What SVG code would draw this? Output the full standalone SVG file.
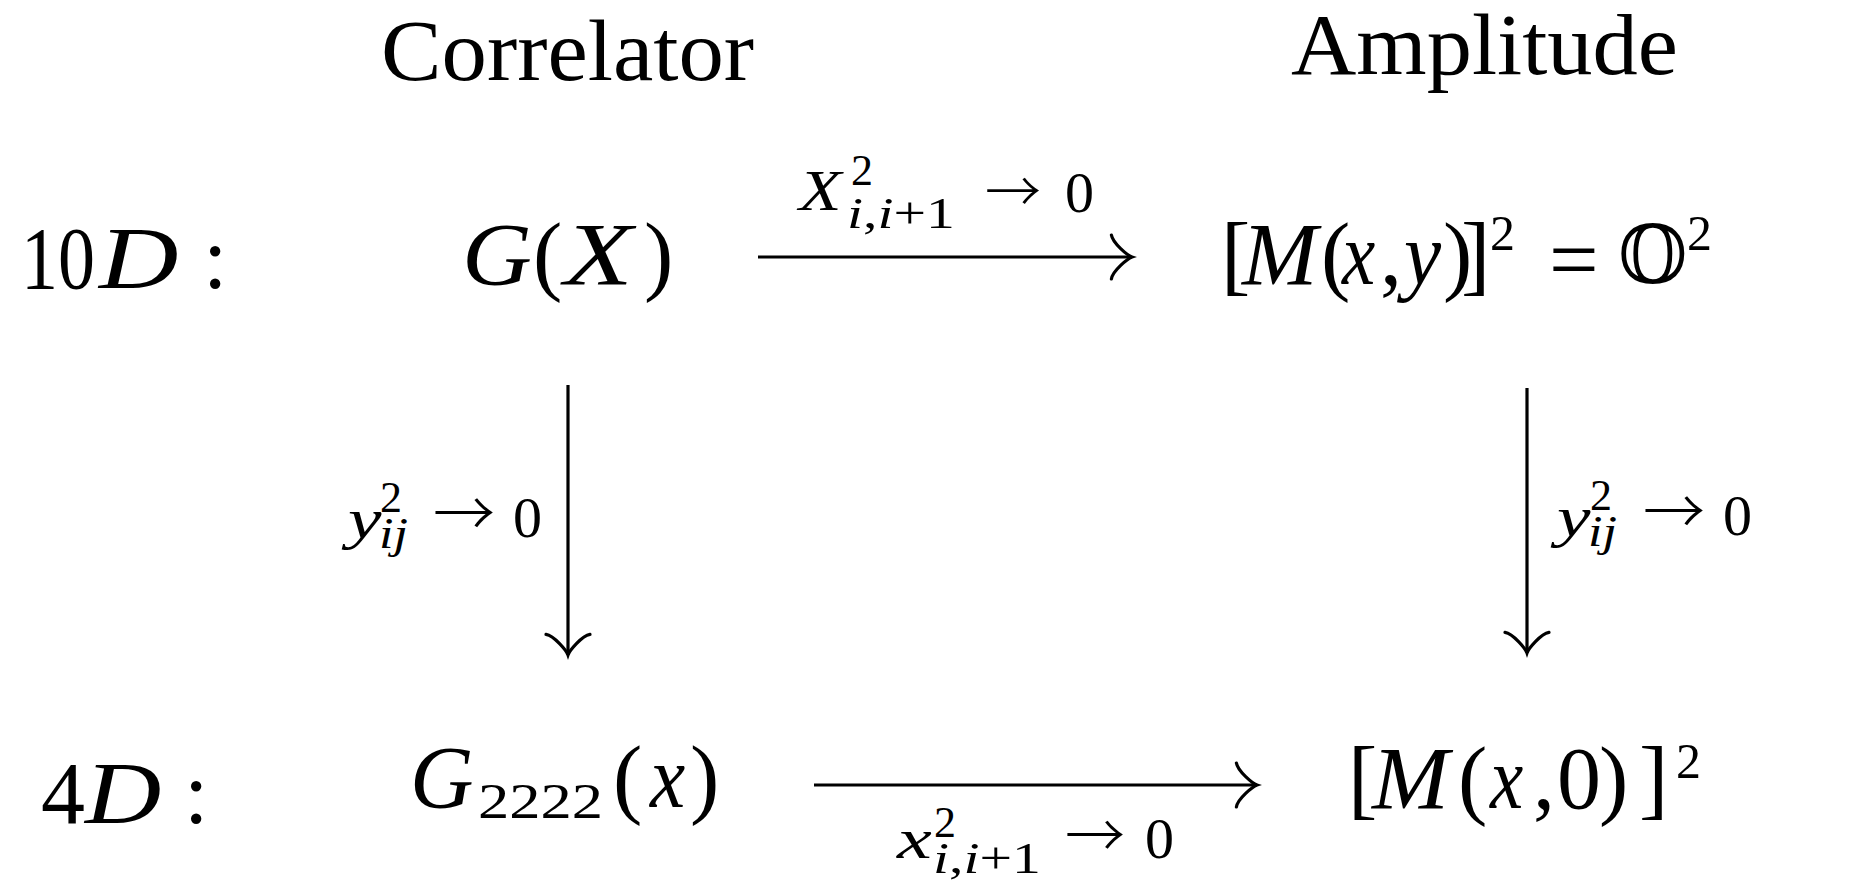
<svg xmlns="http://www.w3.org/2000/svg" width="1857" height="883" viewBox="0 0 1857 883">
<style>
text{font-family:"Liberation Serif","DejaVu Serif",serif;fill:#000}
.i{font-style:italic}
.b{font-size:88px}
.p{font-size:50px}
.s{font-size:58px}
.ss{font-size:44px}
.h{font-size:86px}
.ar{font-family:"Noto Sans CJK JP","DejaVu Sans",sans-serif;font-weight:300}
.ds{font-family:"DejaVu Serif","DejaVu Sans",serif;font-size:80px}
.c{stroke:#000;stroke-width:3.2;fill:none}
</style>
<defs>
<marker id="ah" markerUnits="userSpaceOnUse" viewBox="-26 -26 30 52" markerWidth="30" markerHeight="52" refX="0" refY="0" orient="auto" overflow="visible">
<path d="M -20.6,-22 C -19.25,-13.75 -4.1,-1.4 0,0 C -4.1,1.4 -19.25,13.75 -20.6,22" fill="none" stroke="#000" stroke-width="3.2" stroke-linecap="round"/>
</marker>
</defs>
<rect width="1857" height="883" fill="#fff"/>
<g id="head-correlator"><text class="h" x="381" y="80" textLength="373" lengthAdjust="spacingAndGlyphs">Correlator</text></g>
<g id="head-amplitude"><text class="h" x="1291" y="74" textLength="387" lengthAdjust="spacingAndGlyphs">Amplitude</text></g>
<g id="row-10D">
<text class="b" x="21" y="288" textLength="74" lengthAdjust="spacingAndGlyphs">10</text>
<text class="b i" transform="translate(99,288) scale(1.25,1)">D</text>
<text class="b" x="203" y="288">:</text>
</g>
<g id="row-4D">
<text class="b" x="41" y="823">4</text>
<text class="b i" transform="translate(85,823) scale(1.2,1)">D</text>
<text class="b" x="184" y="823">:</text>
</g>
<g id="node-GX">
<text class="b i" transform="translate(462,284) scale(1.1,1)">G</text>
<text class="b" x="533" y="284">(</text>
<text class="b i" transform="translate(564,284) scale(1.28,1)">X</text>
<text class="b" x="644" y="284">)</text>
</g>
<g id="node-Mxy">
<text class="b" x="1221" y="284">[</text>
<text class="b i" transform="translate(1242,284) scale(1.03,1)">M</text>
<text class="b" x="1321" y="284">(</text>
<text class="b i" transform="translate(1342,284) scale(0.85,1)">x</text>
<text class="b" x="1380" y="284">,</text>
<text class="b i" transform="translate(1404,284) scale(0.95,1)">y</text>
<text class="b" x="1443" y="284">)</text>
<text class="b" x="1461" y="284">]</text>
<text class="p" x="1490" y="250">2</text>
<text class="b" x="1549" y="289">=</text>
<text class="ds" x="1618" y="283">𝕆</text>
<text class="p" x="1687" y="250">2</text>
</g>
<g id="node-G2222">
<text class="b i" x="410" y="807">G</text>
<text class="p" x="478" y="818" textLength="125" lengthAdjust="spacingAndGlyphs">2222</text>
<text class="b" x="613" y="807">(</text>
<text class="b i" transform="translate(650,807) scale(0.9,1)">x</text>
<text class="b" x="690" y="807">)</text>
</g>
<g id="node-Mx0">
<text class="b" x="1348" y="808">[</text>
<text class="b i" transform="translate(1372,808) scale(1.05,1)">M</text>
<text class="b" x="1458" y="808">(</text>
<text class="b i" transform="translate(1490,808) scale(0.85,1)">x</text>
<text class="b" x="1533" y="808">,</text>
<text class="b" x="1557" y="808">0</text>
<text class="b" x="1599" y="808">)</text>
<text class="b" x="1639" y="808">]</text>
<text class="p" x="1676" y="778">2</text>
</g>
<g id="connectors">
<line class="c" x1="758" y1="257" x2="1132" y2="257" marker-end="url(#ah)"/>
<line class="c" x1="814" y1="785" x2="1257" y2="785" marker-end="url(#ah)"/>
<line class="c" x1="568" y1="385" x2="568" y2="655" marker-end="url(#ah)"/>
<line class="c" x1="1527" y1="388" x2="1527" y2="653" marker-end="url(#ah)"/>
</g>
<g id="label-top">
<text class="s i" transform="translate(799,210) scale(1.2,1)">X</text>
<text class="ss" x="851" y="185">2</text>
<text class="ss i" x="847" y="228" textLength="108" lengthAdjust="spacingAndGlyphs">i<tspan font-style="normal">,</tspan>i<tspan font-style="normal">+1</tspan></text>
<text class="ar" x="985" y="212" font-size="56">→</text>
<text class="s" x="1065" y="212">0</text>
</g>
<g id="label-left">
<text class="s i" transform="translate(348,538) scale(1.3,1)">y</text>
<text class="ss" x="380" y="512">2</text>
<text class="ss i" x="379" y="548" textLength="29" lengthAdjust="spacingAndGlyphs">ij</text>
<text class="ar" x="433" y="537" font-size="62">→</text>
<text class="s" x="513" y="537">0</text>
</g>
<g id="label-right">
<text class="s i" transform="translate(1557,536) scale(1.3,1)">y</text>
<text class="ss" x="1590" y="510">2</text>
<text class="ss i" x="1588" y="546" textLength="29" lengthAdjust="spacingAndGlyphs">ij</text>
<text class="ar" x="1643" y="535" font-size="62">→</text>
<text class="s" x="1723" y="535">0</text>
</g>
<g id="label-bottom">
<text class="s i" transform="translate(897,858) scale(1.35,1)">x</text>
<text class="ss" x="934" y="837">2</text>
<text class="ss i" x="933" y="873" textLength="108" lengthAdjust="spacingAndGlyphs">i<tspan font-style="normal">,</tspan>i<tspan font-style="normal">+1</tspan></text>
<text class="ar" x="1065" y="858" font-size="60">→</text>
<text class="s" x="1145" y="858">0</text>
</g>
</svg>
